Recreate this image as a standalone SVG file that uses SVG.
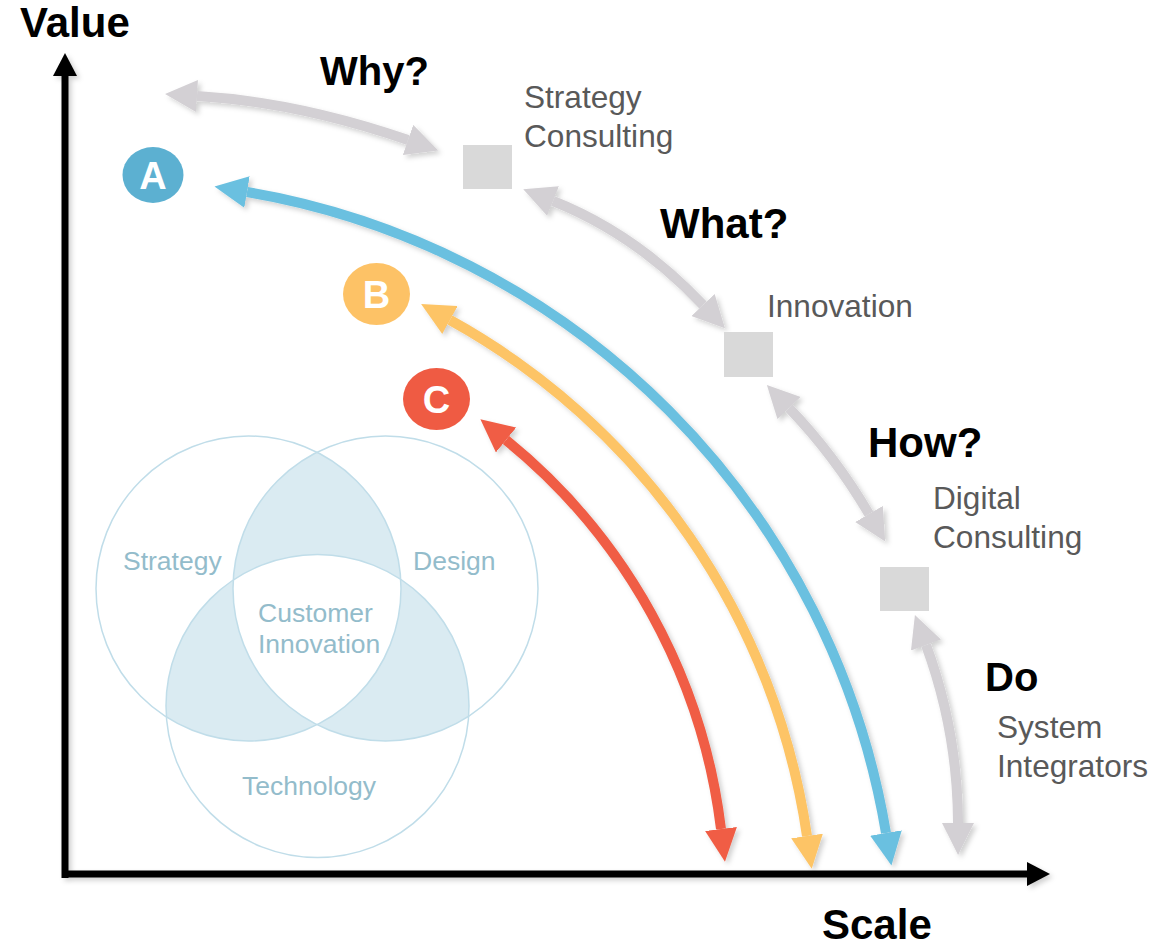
<svg xmlns="http://www.w3.org/2000/svg" width="1166" height="946" viewBox="0 0 1166 946">
<style>
.bold{font-family:"Liberation Sans",Arial,sans-serif;font-weight:bold;font-size:40px;fill:#000}
.big{font-size:42px}
.lbl{font-family:"Liberation Sans",Arial,sans-serif;font-size:31.6px;fill:#595959}
.venn{font-family:"Liberation Sans",Arial,sans-serif;font-size:26.5px;fill:#93bccb}
.letter{font-family:"Liberation Sans",Arial,sans-serif;font-weight:bold;font-size:38px;fill:#fff;text-anchor:middle}
.sq{fill:#d9d9d9}
.gray{fill:none;stroke:#d3d0d4;stroke-width:10}
.arc{fill:none;stroke-width:10}
.vc{fill:none;stroke:#c0dde9;stroke-width:1.5}
</style>
<defs>
<filter id="sh" x="-20%" y="-20%" width="140%" height="140%">
<feDropShadow dx="3" dy="3" stdDeviation="2.5" flood-color="#000" flood-opacity="0.18"/>
</filter>
<marker id="mg" viewBox="0 0 32 32" markerUnits="userSpaceOnUse" markerWidth="32" markerHeight="32" refX="0" refY="16" orient="auto-start-reverse"><path d="M0,0 L32,16 L0,32 z" fill="#d3d0d4"/></marker>
<marker id="mb" viewBox="0 0 33 32" markerUnits="userSpaceOnUse" markerWidth="33" markerHeight="32" refX="0" refY="16" orient="auto-start-reverse"><path d="M0,0 L33,16 L0,32 z" fill="#6bc0e0"/></marker>
<marker id="mo" viewBox="0 0 33 32" markerUnits="userSpaceOnUse" markerWidth="33" markerHeight="32" refX="0" refY="16" orient="auto-start-reverse"><path d="M0,0 L33,16 L0,32 z" fill="#fdc466"/></marker>
<marker id="mr" viewBox="0 0 33 32" markerUnits="userSpaceOnUse" markerWidth="33" markerHeight="32" refX="0" refY="16" orient="auto-start-reverse"><path d="M0,0 L33,16 L0,32 z" fill="#f05d45"/></marker>
<clipPath id="c1"><circle cx="248.5" cy="588.5" r="152.5"/></clipPath>
<clipPath id="c2"><circle cx="385.5" cy="588.5" r="152.5"/></clipPath>
<clipPath id="c3"><circle cx="317.5" cy="706" r="151.5"/></clipPath>
</defs>

<g id="venn">
<g clip-path="url(#c1)"><circle cx="385.5" cy="588.5" r="152.5" fill="#daebf2"/><circle cx="317.5" cy="706" r="151.5" fill="#daebf2"/></g>
<g clip-path="url(#c2)"><circle cx="317.5" cy="706" r="151.5" fill="#daebf2"/></g>
<g clip-path="url(#c1)"><g clip-path="url(#c2)"><circle cx="317.5" cy="706" r="151.5" fill="#fff"/></g></g>
<circle class="vc" cx="248.5" cy="588.5" r="152.5"/>
<circle class="vc" cx="385.5" cy="588.5" r="152.5"/>
<circle class="vc" cx="317.5" cy="706" r="151.5"/>
<text class="venn" x="123" y="570">Strategy</text>
<text class="venn" x="413" y="570">Design</text>
<text class="venn" x="258" y="622">Customer</text>
<text class="venn" x="258" y="653">Innovation</text>
<text class="venn" x="242" y="795">Technology</text>
</g>

<g id="axes" filter="url(#sh)">
<line x1="65" y1="878" x2="65" y2="75" stroke="#000" stroke-width="7"/>
<polygon points="53,76 77,76 65,53" fill="#000"/>
<line x1="62" y1="874" x2="1028" y2="874" stroke="#000" stroke-width="7"/>
<polygon points="1027,862 1027,886 1050,874" fill="#000"/>
</g>
<text class="bold big" x="20" y="37">Value</text>
<text class="bold big" x="822" y="939">Scale</text>

<g id="connectors" filter="url(#sh)">
<path class="gray" d="M197,96 Q297.5,102 408,140" marker-start="url(#mg)" marker-end="url(#mg)"/>
<path class="gray" d="M553,201 Q636,234 703,305" marker-start="url(#mg)" marker-end="url(#mg)"/>
<path class="gray" d="M789,408 Q835,456 869,514" marker-start="url(#mg)" marker-end="url(#mg)"/>
<path class="gray" d="M926,645 Q957.7,731 958,823" marker-start="url(#mg)" marker-end="url(#mg)"/>
<path class="arc" stroke="#6bc0e0" d="M247,192 A781,781 0 0 1 886,833" marker-start="url(#mb)" marker-end="url(#mb)"/>
<path class="arc" stroke="#fdc466" d="M450,320 A705,705 0 0 1 807,836" marker-start="url(#mo)" marker-end="url(#mo)"/>
<path class="arc" stroke="#f05d45" d="M506,440 A593,593 0 0 1 721,829" marker-start="url(#mr)" marker-end="url(#mr)"/>
</g>

<g id="strategy-consulting">
<rect class="sq" x="463" y="145" width="49" height="44"/>
<text class="lbl" x="524" y="108">Strategy</text>
<text class="lbl" x="524" y="147">Consulting</text>
</g>
<g id="innovation">
<rect class="sq" x="724" y="332" width="49" height="45"/>
<text class="lbl" x="767" y="317">Innovation</text>
</g>
<g id="digital-consulting">
<rect class="sq" x="880" y="567" width="49" height="44"/>
<text class="lbl" x="933" y="509">Digital</text>
<text class="lbl" x="933" y="548">Consulting</text>
</g>
<g id="system-integrators">
<text class="lbl" x="997" y="738">System</text>
<text class="lbl" x="997" y="777">Integrators</text>
</g>

<g id="questions">
<text class="bold" x="320" y="85">Why?</text>
<text class="bold big" x="660" y="238">What?</text>
<text class="bold big" x="868" y="457">How?</text>
<text class="bold" x="985" y="691">Do</text>
</g>

<g id="badge-a">
<ellipse cx="153" cy="175" rx="30.5" ry="28" fill="#5cb0d1"/>
<text class="letter" x="153" y="189">A</text>
</g>
<g id="badge-b">
<ellipse cx="376.5" cy="294" rx="33.5" ry="31" fill="#fdc266"/>
<text class="letter" x="376.5" y="308">B</text>
</g>
<g id="badge-c">
<ellipse cx="436.5" cy="399" rx="33.5" ry="31" fill="#ef5b43"/>
<text class="letter" x="436.5" y="413">C</text>
</g>
</svg>
